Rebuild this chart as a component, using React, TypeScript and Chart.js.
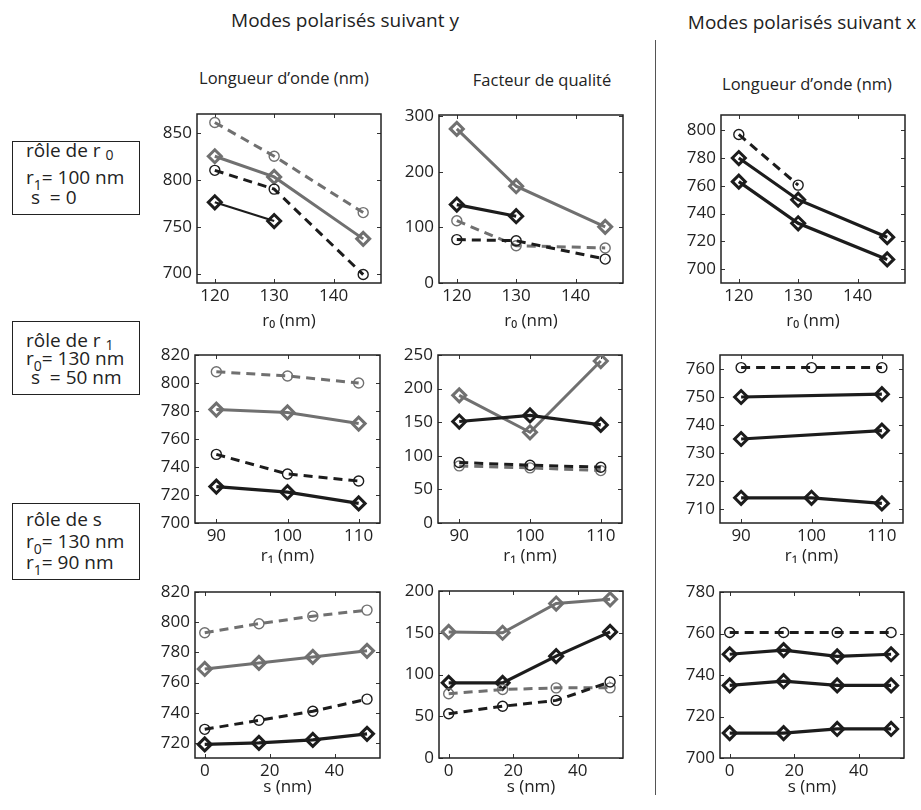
import React, { useEffect, useRef } from 'react';
import { Chart, registerables } from 'chart.js';

Chart.register(...registerables);

const FONT = "'Open Sans', 'DejaVu Sans', sans-serif";
const GRAY = '#707070';
const BLACK = '#1c1c1c';
const TEXT = '#222222';

// ---- categories (x values) ----
const R0_VALUES = [120, 130, 145];
const R1_VALUES = [90, 100, 110];
const S_VALUES = [0, 16.7, 33.3, 50];

// ---- tick labels ----
const R0_TICKS = [120, 130, 140];
const R1_TICKS = [90, 100, 110];
const S_TICKS = [0, 20, 40];
const WL_Y_R0_TICKS = [700, 750, 800, 850];
const Q_R0_TICKS = [0, 100, 200, 300];
const WL_X_R0_TICKS = [700, 720, 740, 760, 780, 800];
const WL_Y_R1_TICKS = [700, 720, 740, 760, 780, 800, 820];
const Q_R1_TICKS = [0, 50, 100, 150, 200, 250];
const WL_X_R1_TICKS = [710, 720, 730, 740, 750, 760];
const WL_Y_S_TICKS = [720, 740, 760, 780, 800, 820];
const Q_S_TICKS = [0, 50, 100, 150, 200];
const WL_X_S_TICKS = [700, 720, 740, 760, 780];

// ---- row 1 : role of r0 ----
const wlY_r0_grayDash = [861, 825, 765];
const wlY_r0_graySolid = [825, 803, 737];
const wlY_r0_blackDash = [810, 790, 699];
const wlY_r0_blackSolid = [776, 756, null];
const qY_r0_graySolid = [277, 174, 101];
const qY_r0_blackSolid = [141, 120, null];
const qY_r0_grayDash = [112, 67, 63];
const qY_r0_blackDash = [78, 76, 43];
const wlX_r0_dash = [797, 760.5, null];
const wlX_r0_solidA = [780, 750, 723];
const wlX_r0_solidB = [763, 733, 707];

// ---- row 2 : role of r1 ----
const wlY_r1_grayDash = [808, 805, 800];
const wlY_r1_graySolid = [781, 779, 771];
const wlY_r1_blackDash = [749, 735, 730];
const wlY_r1_blackSolid = [726, 722, 714];
const qY_r1_graySolid = [190, 135, 241];
const qY_r1_blackSolid = [151, 160, 146];
const qY_r1_blackDash = [90, 86, 83];
const qY_r1_grayDash = [85, 82, 78];
const wlX_r1_dash = [760.5, 760.5, 760.5];
const wlX_r1_solidA = [750, null, 751];
const wlX_r1_solidB = [735, null, 738];
const wlX_r1_solidC = [714, 714, 712];

// ---- row 3 : role of s ----
const wlY_s_grayDash = [793, 799, 804, 808];
const wlY_s_graySolid = [769, 773, 777, 781];
const wlY_s_blackDash = [729, 735, 741, 749];
const wlY_s_blackSolid = [719, 720, 722, 726];
const qY_s_graySolid = [151, 150, 185, 190];
const qY_s_blackSolid = [90, 90, 122, 151];
const qY_s_grayDash = [77, 82, 84, 84];
const qY_s_blackDash = [53, 62, 69, 91];
const wlX_s_dash = [760.5, 760.5, 760.5, 760.5];
const wlX_s_solidA = [750, 752, 749, 750];
const wlX_s_solidB = [735, 737, 735, 735];
const wlX_s_solidC = [712, 712, 714, 714];

type Series = {
  values: (number | null)[];
  color: string;
  dashed: boolean;
  marker: 'diamond' | 'circle';
  width?: number;
};

type Panel = {
  box: [number, number, number, number];
  titleGap: number;
  xs: number[];
  xRange: [number, number];
  yRange: [number, number];
  xTicks: number[];
  yTicks: number[];
  xTitle: string;
  series: Series[];
};

const gs = (v: (number | null)[], w = 3): Series => ({ values: v, color: GRAY, dashed: false, marker: 'diamond', width: w });
const gd = (v: (number | null)[]): Series => ({ values: v, color: GRAY, dashed: true, marker: 'circle' });
const bs = (v: (number | null)[], w = 3.2): Series => ({ values: v, color: BLACK, dashed: false, marker: 'diamond', width: w });
const bd = (v: (number | null)[]): Series => ({ values: v, color: BLACK, dashed: true, marker: 'circle' });

const PANELS: Panel[] = [
  {
    box: [197, 114, 381, 283], titleGap: 38, xs: R0_VALUES, xRange: [117, 148], yRange: [690, 870],
    xTicks: R0_TICKS, yTicks: WL_Y_R0_TICKS, xTitle: 'r\u2080 (nm)',
    series: [bs(wlY_r0_blackSolid, 2.2), bd(wlY_r0_blackDash), gs(wlY_r0_graySolid), gd(wlY_r0_grayDash)],
  },
  {
    box: [439, 115, 623, 283], titleGap: 38, xs: R0_VALUES, xRange: [117, 148], yRange: [0, 302],
    xTicks: R0_TICKS, yTicks: Q_R0_TICKS, xTitle: 'r\u2080 (nm)',
    series: [bd(qY_r0_blackDash), gd(qY_r0_grayDash), bs(qY_r0_blackSolid), gs(qY_r0_graySolid)],
  },
  {
    box: [721, 115, 905, 283], titleGap: 38, xs: R0_VALUES, xRange: [117, 148], yRange: [690, 811],
    xTicks: R0_TICKS, yTicks: WL_X_R0_TICKS, xTitle: 'r\u2080 (nm)',
    series: [bd(wlX_r0_dash), bs(wlX_r0_solidA), bs(wlX_r0_solidB)],
  },
  {
    box: [195, 355, 380, 523], titleGap: 33, xs: R1_VALUES, xRange: [87, 113], yRange: [700, 820],
    xTicks: R1_TICKS, yTicks: WL_Y_R1_TICKS, xTitle: 'r\u2081 (nm)',
    series: [bs(wlY_r1_blackSolid), bd(wlY_r1_blackDash), gs(wlY_r1_graySolid), gd(wlY_r1_grayDash)],
  },
  {
    box: [438, 355, 622, 523], titleGap: 33, xs: R1_VALUES, xRange: [87, 113], yRange: [0, 250],
    xTicks: R1_TICKS, yTicks: Q_R1_TICKS, xTitle: 'r\u2081 (nm)',
    series: [bd(qY_r1_blackDash), gd(qY_r1_grayDash), bs(qY_r1_blackSolid), gs(qY_r1_graySolid)],
  },
  {
    box: [720, 355, 903, 523], titleGap: 33, xs: R1_VALUES, xRange: [87, 113], yRange: [705, 765],
    xTicks: R1_TICKS, yTicks: WL_X_R1_TICKS, xTitle: 'r\u2081 (nm)',
    series: [bd(wlX_r1_dash), bs(wlX_r1_solidA), bs(wlX_r1_solidB), bs(wlX_r1_solidC)],
  },
  {
    box: [195, 592, 380, 758], titleGap: 29, xs: S_VALUES, xRange: [-3, 54], yRange: [710, 820],
    xTicks: S_TICKS, yTicks: WL_Y_S_TICKS, xTitle: 's (nm)',
    series: [bs(wlY_s_blackSolid), bd(wlY_s_blackDash), gs(wlY_s_graySolid), gd(wlY_s_grayDash)],
  },
  {
    box: [439, 591, 623, 758], titleGap: 29, xs: S_VALUES, xRange: [-3, 54], yRange: [0, 200],
    xTicks: S_TICKS, yTicks: Q_S_TICKS, xTitle: 's (nm)',
    series: [bd(qY_s_blackDash), gd(qY_s_grayDash), bs(qY_s_blackSolid), gs(qY_s_graySolid)],
  },
  {
    box: [720, 592, 904, 758], titleGap: 29, xs: S_VALUES, xRange: [-3, 54], yRange: [700, 780],
    xTicks: S_TICKS, yTicks: WL_X_S_TICKS, xTitle: 's (nm)',
    series: [bd(wlX_s_dash), bs(wlX_s_solidA), bs(wlX_s_solidB), bs(wlX_s_solidC)],
  },
];

const YW = 50;
const PT = 16;
const PR = 16;
const PB = 8;
const TICK_SIZE = 17;

const boxPlugin = {
  id: 'matlabBox',
  beforeDatasetsDraw(chart: any) {
    const { ctx, chartArea, scales } = chart;
    const { left, top, right, bottom } = chartArea;
    const x = scales.x;
    const y = scales.y;
    ctx.save();
    ctx.strokeStyle = '#333';
    ctx.lineWidth = 1;
    ctx.beginPath();
    x.ticks.forEach((t: any) => {
      const px = Math.round(x.getPixelForValue(t.value)) + 0.5;
      ctx.moveTo(px, bottom);
      ctx.lineTo(px, bottom - 4);
      ctx.moveTo(px, top);
      ctx.lineTo(px, top + 4);
    });
    y.ticks.forEach((t: any) => {
      const py = Math.round(y.getPixelForValue(t.value)) + 0.5;
      ctx.moveTo(left, py);
      ctx.lineTo(left + 4, py);
      ctx.moveTo(right, py);
      ctx.lineTo(right - 4, py);
    });
    ctx.stroke();
    ctx.strokeStyle = '#222';
    ctx.lineWidth = 1.5;
    ctx.strokeRect(left, top, right - left, bottom - top);
    ctx.restore();
  },
};

function ChartPanel({ panel }: { panel: Panel }) {
  const ref = useRef<HTMLCanvasElement>(null);
  const [L, T, R, B] = panel.box;
  const XH = panel.titleGap + (TICK_SIZE * 1.2) / 2;
  const w = R - L + YW + PR;
  const h = Math.round(B - T + PT + XH + PB);

  useEffect(() => {
    if (!ref.current) return;
    const datasets = panel.series.map((s) => ({
      data: panel.xs
        .map((x, i) => ({ x, y: s.values[i] }))
        .filter((p) => p.y !== null && p.y !== undefined),
      borderColor: s.color,
      borderWidth: s.dashed ? 3 : s.width ?? 3,
      borderDash: s.dashed ? [9, 6] : [],
      pointStyle: s.marker === 'diamond' ? 'rectRot' : 'circle',
      pointRadius: s.marker === 'diamond' ? 6.5 : 5,
      pointBorderWidth: s.marker === 'diamond' ? 3 : 1.4,
      pointBorderColor: s.color,
      pointBackgroundColor: 'rgba(255,255,255,0)',
      fill: false,
      tension: 0,
    }));
    const tickFont = { family: FONT, size: TICK_SIZE };
    const chart = new Chart(ref.current, {
      type: 'line',
      data: { datasets },
      options: {
        responsive: false,
        animation: false,
        devicePixelRatio: 1,
        layout: { padding: { left: 0, top: PT, right: PR, bottom: h - (B - T + PT) - XH } },
        plugins: { legend: { display: false }, tooltip: { enabled: false } },
        scales: {
          x: {
            type: 'linear',
            min: panel.xRange[0],
            max: panel.xRange[1],
            afterBuildTicks: (scale: any) => {
              scale.ticks = panel.xTicks.map((v) => ({ value: v }));
            },
            afterFit: (scale: any) => {
              scale.height = XH;
            },
            grid: { display: false, drawTicks: false },
            border: { display: false },
            ticks: { font: tickFont, color: TEXT, padding: 3, maxRotation: 0, autoSkip: false },
            title: {
              display: true,
              text: panel.xTitle,
              font: tickFont,
              color: TEXT,
              padding: { top: 0, bottom: 0 },
            },
          },
          y: {
            type: 'linear',
            min: panel.yRange[0],
            max: panel.yRange[1],
            afterBuildTicks: (scale: any) => {
              scale.ticks = panel.yTicks.map((v) => ({ value: v }));
            },
            afterFit: (scale: any) => {
              scale.width = YW;
            },
            grid: { display: false, drawTicks: false },
            border: { display: false },
            ticks: { font: tickFont, color: TEXT, padding: 5, autoSkip: false },
          },
        },
      } as any,
      plugins: [boxPlugin],
    });
    return () => chart.destroy();
  }, []);

  return (
    <canvas
      ref={ref}
      width={w}
      height={h}
      style={{ position: 'absolute', left: L - YW, top: T - PT, width: w, height: h }}
    />
  );
}

function Label({ x, y, children, size = 17 }: { x: number; y: number; children: any; size?: number }) {
  return (
    <div
      style={{
        position: 'absolute',
        left: x,
        top: y,
        transform: 'translate(-50%, -50%)',
        whiteSpace: 'nowrap',
        fontFamily: FONT,
        fontSize: size,
        color: TEXT,
        lineHeight: 1,
      }}
    >
      {children}
    </div>
  );
}

const sub = (t: string, drop = 6) => (
  <span style={{ fontSize: 14, position: 'relative', top: drop }}>{t}</span>
);

function Line({ y, children }: { y: number; children: any }) {
  return (
    <div
      style={{
        position: 'absolute',
        left: 13,
        top: y,
        transform: 'translateY(-50%)',
        whiteSpace: 'nowrap',
        fontFamily: FONT,
        fontSize: 19,
        color: TEXT,
        lineHeight: 1,
      }}
    >
      {children}
    </div>
  );
}

function SideBox({ box, lines }: { box: [number, number, number, number]; lines: { y: number; content: any }[] }) {
  const [l, t, r, b] = box;
  return (
    <div
      style={{
        position: 'absolute',
        left: l,
        top: t,
        width: r - l,
        height: b - t,
        border: '1px solid #222',
        boxSizing: 'border-box',
      }}
    >
      {lines.map((ln, i) => (
        <Line key={i} y={ln.y - t}>
          {ln.content}
        </Line>
      ))}
    </div>
  );
}

export default function App() {
  return (
    <div
      style={{
        position: 'absolute',
        left: 0,
        top: 0,
        width: 921,
        height: 810,
        background: '#fff',
        overflow: 'hidden',
      }}
    >
      <Label x={345} y={20} size={19}>Modes polarisés suivant y</Label>
      <Label x={802} y={22} size={19}>Modes polarisés suivant x</Label>
      <Label x={284} y={78} size={16.5}>Longueur d’onde (nm)</Label>
      <Label x={542} y={80} size={16.5}>Facteur de qualité</Label>
      <Label x={807} y={84} size={16.5}>Longueur d’onde (nm)</Label>

      <div style={{ position: 'absolute', left: 655, top: 40, width: 1, height: 755, background: '#555' }} />

      <SideBox
        box={[12, 141, 140, 215]}
        lines={[
          { y: 149, content: <>rôle de r {sub('0', 3)}</> },
          { y: 176, content: <>r{sub('1')}= 100 nm</> },
          { y: 196, content: <>&nbsp;s &nbsp;= 0</> },
        ]}
      />
      <SideBox
        box={[12, 321, 140, 395]}
        lines={[
          { y: 339, content: <>rôle de r {sub('1', 3)}</> },
          { y: 357, content: <>r{sub('0')}= 130 nm</> },
          { y: 376, content: <>&nbsp;s &nbsp;= 50 nm</> },
        ]}
      />
      <SideBox
        box={[12, 503, 140, 580]}
        lines={[
          { y: 518, content: <>rôle de s</> },
          { y: 540, content: <>r{sub('0')}= 130 nm</> },
          { y: 561, content: <>r{sub('1')}= 90 nm</> },
        ]}
      />

      {PANELS.map((p, i) => (
        <ChartPanel key={i} panel={p} />
      ))}
    </div>
  );
}
